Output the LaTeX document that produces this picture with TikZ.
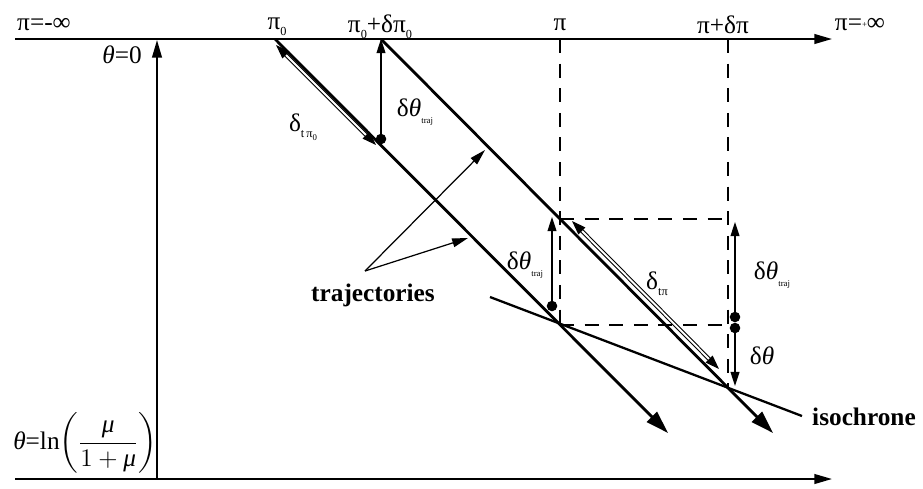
\documentclass[tikz,border=0pt]{standalone}
\usepackage{amsmath}
\usepackage{fontspec}
\setmainfont{Liberation Serif}
\usetikzlibrary{arrows.meta}

\newcommand{\lowsub}[1]{\raisebox{-0.55ex}{\scriptsize #1}}

\tikzset{
  axis/.style={line width=1.1pt, -{Triangle[length=10pt,width=5.5pt]}},
  traj/.style={line width=1.6pt, -{Triangle[length=13pt,width=8pt]}},
  guide/.style={line width=0.8pt, dash pattern=on 8pt off 6pt},
  shiftarrow/.style={line width=0.8pt, -{Triangle[length=8pt,width=5pt]}},
  pointer/.style={line width=0.7pt, -{Triangle[length=9pt,width=5pt]}},
  track/.style={double, double distance=1.1pt, line width=0.6pt,
    {Triangle[length=8pt,width=5.5pt]}-{Triangle[length=8pt,width=5.5pt]}},
  blob/.style={circle, fill, inner sep=0pt, minimum size=6pt},
  lbl/.style={inner sep=0pt, font=\Large},
  word/.style={inner sep=0pt, font=\Large\bfseries}
}

\begin{document}
\begin{tikzpicture}[x=0.02cm, y=-0.02cm]
\useasboundingbox (0,0) rectangle (923,488);

% axes
\coordinate (topL) at (15,39);
\coordinate (topR) at (832,39);
\coordinate (botL) at (15,479);
\coordinate (botR) at (832,479);
\coordinate (vbot) at (157,479);
\coordinate (vtop) at (157,40);
\draw[axis] (topL) -- (topR);
\draw[axis] (botL) -- (botR);
\draw[axis] (vbot) -- (vtop);

% points on the pi axis
\coordinate (p0) at (275,39);
\coordinate (p0d) at (381,39);
\coordinate (p) at (560,39);
\coordinate (pd) at (728,39);

% crossings
\coordinate (c1) at (560,325);
\coordinate (c2) at (560,219);
\coordinate (c3) at (728,388);
\coordinate (c4) at (728,325);
\coordinate (c5) at (728,219);

% dashed guides
\draw[guide] (p) -- (c1);
\draw[guide] (pd) -- (c3);
\draw[guide] (c2) -- (c5);
\draw[guide] (c1) -- (c4);

% trajectories
\coordinate (t1end) at (668,433);
\coordinate (t2end) at (773,433);
\draw[traj] (p0) -- (t1end);
\draw[traj] (p0d) -- (t2end);

% isochrone
\coordinate (iso1) at (490,297);
\coordinate (iso2) at (802,416);
\draw[line width=1.3pt] (iso1) -- (iso2);

% shifts along the trajectories
\coordinate (s1a) at (276,45);
\coordinate (s1b) at (376,145);
\coordinate (s2a) at (572,221);
\coordinate (s2b) at (719,369);
\draw[track] (s1a) -- (s1b);
\draw[track] (s2a) -- (s2b);

% vertical gaps
\node[blob] (d1) at (381,139) {};
\node[blob] (d2) at (552,306) {};
\node[blob] (d3) at (735,317) {};
\node[blob] (d4) at (735,328) {};
\coordinate (g2) at (552,217);
\coordinate (g3) at (735,222);
\coordinate (g4) at (735,386);
\draw[shiftarrow] (d1.center) -- (p0d);
\draw[shiftarrow] (d2.center) -- (g2);
\draw[shiftarrow] (d3.center) -- (g3);
\draw[shiftarrow] (d4.center) -- (g4);

% trajectories pointers
\coordinate (tp) at (365,271);
\coordinate (tp1) at (485,150);
\coordinate (tp2) at (468,238);
\draw[pointer] (tp) -- (tp1);
\draw[pointer] (tp) -- (tp2);

% labels
\node[lbl] (lminf) at (44,25) {π=-∞};
\node[lbl] (lpinf) at (860,25) {π=\raisebox{0.3ex}{\tiny +}∞};
\node[lbl] (lth0) at (122,55) {\textit{θ}=0};
\node[lbl] (lp0) at (277,27) {π\lowsub{0}};
\node[lbl] (lp0d) at (380,27) {π\lowsub{0}+δπ\lowsub{0}};
\node[lbl] (lp) at (560,25) {π};
\node[lbl] (lpd) at (723,25) {π+δπ};
\node[lbl] (lgap1) at (415,112) {δ\textit{θ}\lowsub{\tiny traj}};
\node[lbl] (lgap2) at (525,265) {δ\textit{θ}\lowsub{\tiny traj}};
\node[lbl] (lgap3) at (772,275) {δ\textit{θ}\lowsub{\tiny traj}};
\node[lbl] (lgap4) at (762,356) {δ\textit{θ}};
\node[lbl] (ls1) at (303,127) {δ\lowsub{t\,π\lowsub{\tiny 0}}};
\node[lbl] (ls2) at (657,284) {δ\lowsub{tπ}};
\node[word] (ltraj) at (373,295) {trajectories};
\node[word] (liso) at (864,417) {isochrone};
\node[lbl] (lthb) at (85,443) {\textit{θ}=ln$\left(\dfrac{\textit{μ}}{1+\textit{μ}}\right)$};
\end{tikzpicture}
\end{document}
